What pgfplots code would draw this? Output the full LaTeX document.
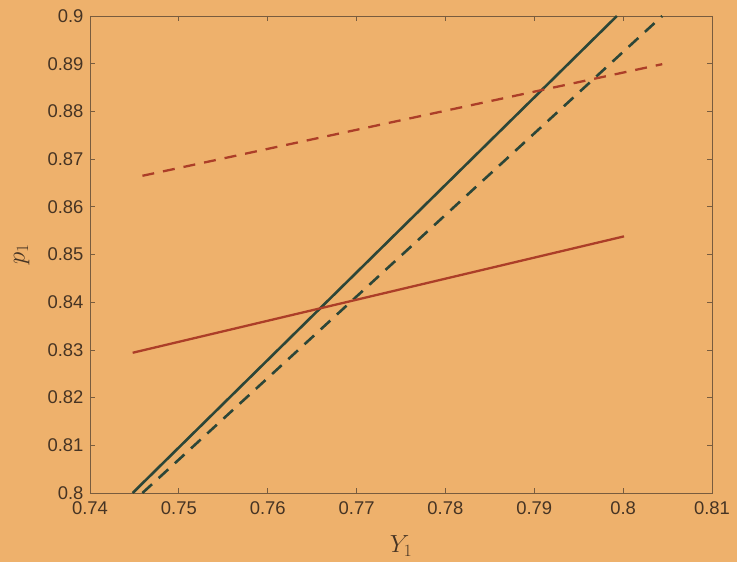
\documentclass[border=0pt]{standalone}
\usepackage{pgfplots}
\pgfplotsset{compat=1.18}
\usepackage{fontspec}
\setmainfont{Liberation Sans}
\definecolor{bg}{RGB}{238,177,108}
\definecolor{axcol}{RGB}{120,92,62}
\definecolor{txtcol}{RGB}{70,52,36}
\definecolor{dgreen}{RGB}{44,70,56}
\definecolor{dred}{RGB}{172,62,40}
\begin{document}
\begin{tikzpicture}
\fill[bg] (-90bp,-69bp) rectangle (647bp,493bp);
\begin{axis}[
  at={(0,0)}, anchor=south west,
  scale only axis, width=622bp, height=477bp,
  xmin=0.74, xmax=0.81, ymin=0.8, ymax=0.9,
  xtick={0.74,0.75,0.76,0.77,0.78,0.79,0.80,0.81},
  ytick={0.80,0.81,0.82,0.83,0.84,0.85,0.86,0.87,0.88,0.89,0.90},
  /pgf/number format/.cd, fixed, precision=2, assume math mode=true,
  /pgfplots/.cd,
  ticklabel style={font=\fontsize{18.5}{21}\selectfont, text=txtcol},
  xticklabel style={yshift=-5bp},
  yticklabel style={xshift=-3bp},
  tick align=inside, major tick length=5bp,
  axis line style={axcol, line width=0.9pt},
  every tick/.style={axcol, line width=0.8pt},
  xlabel={$Y_1$}, ylabel={$p_1$},
  label style={font=\fontsize{27}{30}\selectfont, text=txtcol},
  xlabel style={at={(axis description cs:0.5,-0.111)}, anchor=center},
  ylabel style={at={(axis description cs:-0.11,0.5)}, anchor=center},
]
\addplot[dgreen, line width=2.6pt] coordinates {(0.7448,0.8) (0.7993,0.9)};
\addplot[dgreen, line width=2.6pt, dash pattern=on 13bp off 9bp] coordinates {(0.7459,0.8) (0.8044,0.9)};
\addplot[dred, line width=2.3pt] coordinates {(0.7448,0.8294) (0.8001,0.8538)};
\addplot[dred, line width=2.3pt, dash pattern=on 12bp off 9bp] coordinates {(0.7459,0.8665) (0.8044,0.8899)};
\end{axis}
\end{tikzpicture}
\end{document}
